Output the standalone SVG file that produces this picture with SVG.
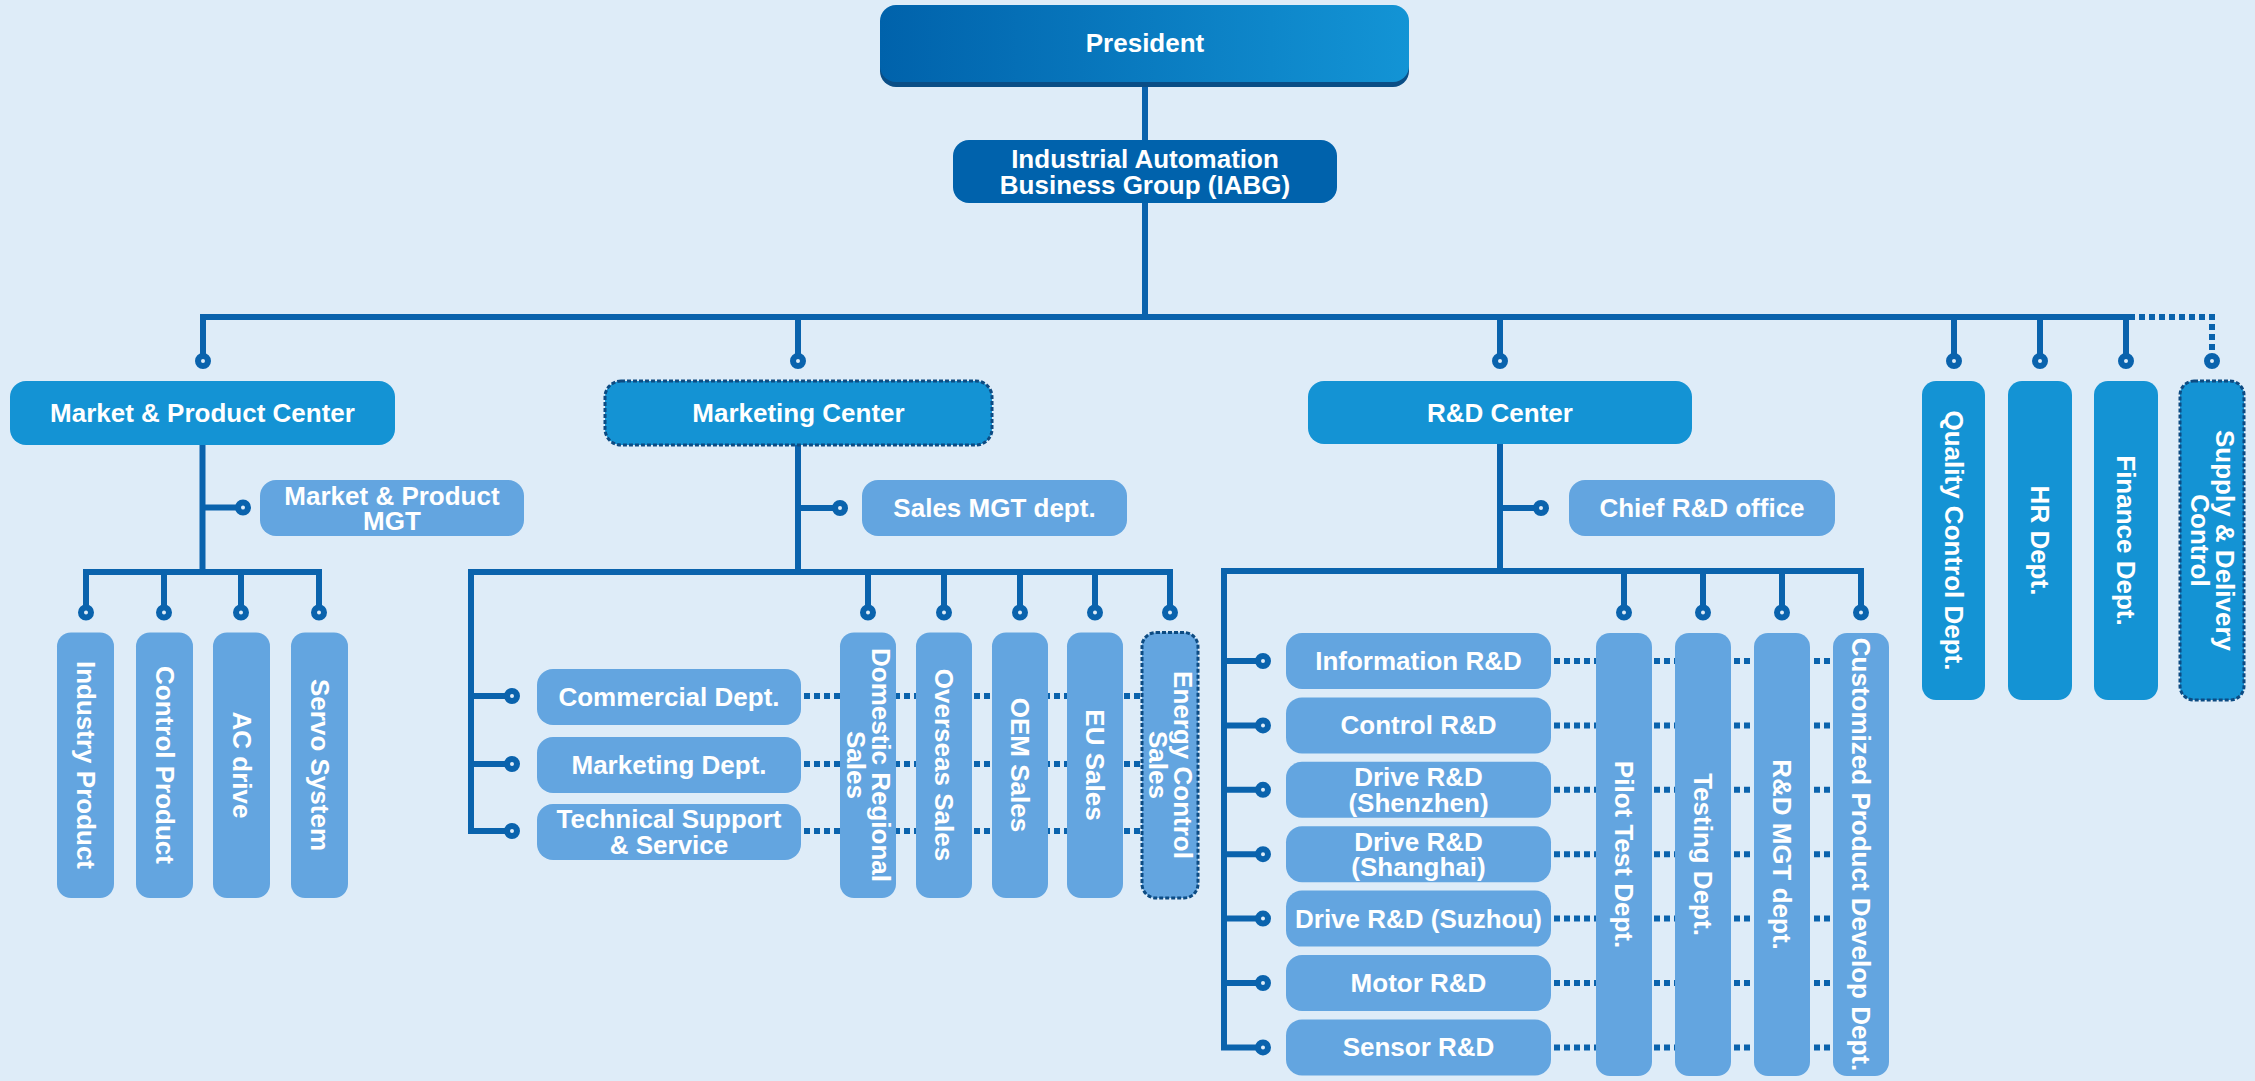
<svg xmlns="http://www.w3.org/2000/svg" width="2255" height="1081" viewBox="0 0 2255 1081">
<defs>
<linearGradient id="pg" x1="0" y1="0" x2="1" y2="0">
<stop offset="0" stop-color="#0062ab"/>
<stop offset="1" stop-color="#1394d5"/>
</linearGradient>
<style>
.t{font-family:"Liberation Sans",Arial,sans-serif;font-weight:bold;font-size:26px;fill:#fff;text-anchor:middle}
.l2{fill:#1493d4}
.l3{fill:#63a5e0}
.dk{fill:#0062ac}
.dash{stroke:#0d4b82;stroke-width:3;stroke-dasharray:4 2}
.ln{stroke:#0a63ad;stroke-width:6;fill:none}
.dot{stroke:#0a63ad;stroke-width:6;stroke-dasharray:6 4;fill:none}
.ring{fill:#deecf8;stroke:#0a63ad;stroke-width:6}
</style>
</defs>
<rect width="2255" height="1081" fill="#deecf8"/>

<g id="connectors">
<path class="ln" d="M1145 87 V317"/>
<path class="ln" d="M203 361 V317 H2126 V361"/>
<path class="ln" d="M798 317 V361 M1500 317 V361 M1954 317 V361 M2040 317 V361"/>
<path class="dot" d="M2129 317 H2212 V356"/>
<path class="ln" d="M202.5 445 V572 M202.5 507.5 H243"/>
<path class="ln" d="M86 612.5 V572 H319 V612.5 M164 572 V612.5 M241 572 V612.5"/>
<path class="ln" d="M798 445 V572 M798 508 H840"/>
<path class="ln" d="M512 831 H471 V572 H1170 V612.5 M471 696 H512 M471 764 H512"/>
<path class="ln" d="M868 572 V612.5 M944 572 V612.5 M1020 572 V612.5 M1095 572 V612.5"/>
<path class="dot" d="M804 696 H1170 M804 764 H1170 M804 831 H1170"/>
<path class="ln" d="M1500 444 V571 M1500 508 H1541"/>
<path class="ln" d="M1263 1047.4 H1224 V571 H1861 V612.5 M1224 661 H1263 M1224 725.4 H1263 M1224 789.8 H1263 M1224 854.2 H1263 M1224 918.6 H1263 M1224 983 H1263"/>
<path class="ln" d="M1624 571 V612.5 M1703 571 V612.5 M1782 571 V612.5"/>
<path class="dot" d="M1554 661 H1861 M1554 725.4 H1861 M1554 789.8 H1861 M1554 854.2 H1861 M1554 918.6 H1861 M1554 983 H1861 M1554 1047.4 H1861"/>
<circle class="ring" cx="203" cy="361" r="5"/>
<circle class="ring" cx="798" cy="361" r="5"/>
<circle class="ring" cx="1500" cy="361" r="5"/>
<circle class="ring" cx="1954" cy="361" r="5"/>
<circle class="ring" cx="2040" cy="361" r="5"/>
<circle class="ring" cx="2126" cy="361" r="5"/>
<circle class="ring" cx="2212" cy="361" r="5"/>
<circle class="ring" cx="243" cy="507.5" r="5"/>
<circle class="ring" cx="86" cy="612.5" r="5"/>
<circle class="ring" cx="164" cy="612.5" r="5"/>
<circle class="ring" cx="241" cy="612.5" r="5"/>
<circle class="ring" cx="319" cy="612.5" r="5"/>
<circle class="ring" cx="840" cy="508" r="5"/>
<circle class="ring" cx="512" cy="696" r="5"/>
<circle class="ring" cx="512" cy="764" r="5"/>
<circle class="ring" cx="512" cy="831" r="5"/>
<circle class="ring" cx="868" cy="612.5" r="5"/>
<circle class="ring" cx="944" cy="612.5" r="5"/>
<circle class="ring" cx="1020" cy="612.5" r="5"/>
<circle class="ring" cx="1095" cy="612.5" r="5"/>
<circle class="ring" cx="1170" cy="612.5" r="5"/>
<circle class="ring" cx="1541" cy="508" r="5"/>
<circle class="ring" cx="1263" cy="661" r="5"/>
<circle class="ring" cx="1263" cy="725.4" r="5"/>
<circle class="ring" cx="1263" cy="789.8" r="5"/>
<circle class="ring" cx="1263" cy="854.2" r="5"/>
<circle class="ring" cx="1263" cy="918.6" r="5"/>
<circle class="ring" cx="1263" cy="983" r="5"/>
<circle class="ring" cx="1263" cy="1047.4" r="5"/>
<circle class="ring" cx="1624" cy="612.5" r="5"/>
<circle class="ring" cx="1703" cy="612.5" r="5"/>
<circle class="ring" cx="1782" cy="612.5" r="5"/>
<circle class="ring" cx="1861" cy="612.5" r="5"/>
</g>

<g id="president">
<rect x="880" y="10" width="529" height="77" rx="16" fill="#0a4e86"/>
<rect x="880" y="5" width="529" height="77" rx="16" fill="url(#pg)"/>
<text class="t" x="1145" y="52">President</text>
</g>
<g id="iabg">
<rect class="dk" x="953" y="140" width="384" height="63" rx="16"/>
<text class="t"><tspan x="1145" y="168">Industrial Automation</tspan><tspan x="1145" y="194">Business Group (IABG)</tspan></text>
</g>

<g id="market-product-center">
<rect class="l2" x="10" y="381" width="385" height="64" rx="16"/>
<text class="t" x="202.5" y="422">Market &amp; Product Center</text>
</g>
<g id="marketing-center">
<rect class="l2 dash" x="605" y="381" width="387" height="64" rx="16"/>
<text class="t" x="798.5" y="422">Marketing Center</text>
</g>
<g id="rd-center">
<rect class="l2" x="1308" y="381" width="384" height="63" rx="16"/>
<text class="t" x="1500" y="422">R&amp;D Center</text>
</g>
<g id="quality-control">
<rect class="l2" x="1922" y="381" width="63" height="319" rx="14"/>
<text class="t" transform="translate(1953.5 540.5) rotate(90)" y="9">Quality Control Dept.</text>
</g>
<g id="hr">
<rect class="l2" x="2008" y="381" width="64" height="319" rx="14"/>
<text class="t" transform="translate(2040 540.5) rotate(90)" y="9">HR Dept.</text>
</g>
<g id="finance">
<rect class="l2" x="2094" y="381" width="64" height="319" rx="14"/>
<text class="t" transform="translate(2126 540.5) rotate(90)" y="9">Finance Dept.</text>
</g>
<g id="supply-delivery">
<rect class="l2 dash" x="2180" y="381" width="64" height="319" rx="14"/>
<text class="t" transform="translate(2212 540.5) rotate(90)"><tspan x="0" y="-3.5">Supply &amp; Delivery</tspan><tspan x="0" y="21.5">Control</tspan></text>
</g>

<g id="market-product-mgt">
<rect class="l3" x="260" y="480" width="264" height="56" rx="16"/>
<text class="t"><tspan x="392" y="504.5">Market &amp; Product</tspan><tspan x="392" y="530">MGT</tspan></text>
</g>
<g id="industry-product">
<rect class="l3" x="57" y="632.5" width="57" height="265.5" rx="14"/>
<text class="t" transform="translate(85.5 765) rotate(90)" y="9">Industry Product</text>
</g>
<g id="control-product">
<rect class="l3" x="136" y="632.5" width="57" height="265.5" rx="14"/>
<text class="t" transform="translate(164.5 765) rotate(90)" y="9">Control Product</text>
</g>
<g id="ac-drive">
<rect class="l3" x="213" y="632.5" width="57" height="265.5" rx="14"/>
<text class="t" transform="translate(241.5 765) rotate(90)" y="9">AC drive</text>
</g>
<g id="servo-system">
<rect class="l3" x="291" y="632.5" width="57" height="265.5" rx="14"/>
<text class="t" transform="translate(319.5 765) rotate(90)" y="9">Servo System</text>
</g>

<g id="sales-mgt">
<rect class="l3" x="862" y="480" width="265" height="56" rx="16"/>
<text class="t" x="994.5" y="517">Sales MGT dept.</text>
</g>
<g id="commercial">
<rect class="l3" x="537" y="669" width="264" height="56" rx="16"/>
<text class="t" x="669" y="706">Commercial Dept.</text>
</g>
<g id="marketing-dept">
<rect class="l3" x="537" y="737" width="264" height="56" rx="16"/>
<text class="t" x="669" y="774">Marketing Dept.</text>
</g>
<g id="technical-support">
<rect class="l3" x="537" y="804" width="264" height="56" rx="16"/>
<text class="t"><tspan x="669" y="828">Technical Support</tspan><tspan x="669" y="854">&amp; Service</tspan></text>
</g>
<g id="domestic-sales">
<rect class="l3" x="840" y="632.5" width="56" height="265.5" rx="14"/>
<text class="t" transform="translate(868 765) rotate(90)"><tspan x="0" y="-3.5">Domestic Regional</tspan><tspan x="0" y="21.5">Sales</tspan></text>
</g>
<g id="overseas-sales">
<rect class="l3" x="916" y="632.5" width="56" height="265.5" rx="14"/>
<text class="t" transform="translate(944 765) rotate(90)" y="9">Overseas Sales</text>
</g>
<g id="oem-sales">
<rect class="l3" x="992" y="632.5" width="56" height="265.5" rx="14"/>
<text class="t" transform="translate(1020 765) rotate(90)" y="9">OEM Sales</text>
</g>
<g id="eu-sales">
<rect class="l3" x="1067" y="632.5" width="56" height="265.5" rx="14"/>
<text class="t" transform="translate(1095 765) rotate(90)" y="9">EU Sales</text>
</g>
<g id="energy-control-sales">
<rect class="l3 dash" x="1142" y="632.5" width="56" height="265.5" rx="14"/>
<text class="t" transform="translate(1170 765) rotate(90)"><tspan x="0" y="-3.5">Energy Control</tspan><tspan x="0" y="21.5">Sales</tspan></text>
</g>

<g id="chief-rd">
<rect class="l3" x="1569" y="480" width="266" height="56" rx="16"/>
<text class="t" x="1702" y="517">Chief R&amp;D office</text>
</g>
<g id="information-rd">
<rect class="l3" x="1286" y="633" width="265" height="56" rx="16"/>
<text class="t" x="1418.5" y="670">Information R&amp;D</text>
</g>
<g id="control-rd">
<rect class="l3" x="1286" y="697.4" width="265" height="56" rx="16"/>
<text class="t" x="1418.5" y="734.4">Control R&amp;D</text>
</g>
<g id="drive-shenzhen">
<rect class="l3" x="1286" y="761.8" width="265" height="56" rx="16"/>
<text class="t"><tspan x="1418.5" y="786.3">Drive R&amp;D</tspan><tspan x="1418.5" y="811.8">(Shenzhen)</tspan></text>
</g>
<g id="drive-shanghai">
<rect class="l3" x="1286" y="826.2" width="265" height="56" rx="16"/>
<text class="t"><tspan x="1418.5" y="850.7">Drive R&amp;D</tspan><tspan x="1418.5" y="876.2">(Shanghai)</tspan></text>
</g>
<g id="drive-suzhou">
<rect class="l3" x="1286" y="890.6" width="265" height="56" rx="16"/>
<text class="t" x="1418.5" y="927.6">Drive R&amp;D (Suzhou)</text>
</g>
<g id="motor-rd">
<rect class="l3" x="1286" y="955" width="265" height="56" rx="16"/>
<text class="t" x="1418.5" y="992">Motor R&amp;D</text>
</g>
<g id="sensor-rd">
<rect class="l3" x="1286" y="1019.4" width="265" height="56" rx="16"/>
<text class="t" x="1418.5" y="1056.4">Sensor R&amp;D</text>
</g>
<g id="pilot-test">
<rect class="l3" x="1596" y="633" width="56" height="443" rx="14"/>
<text class="t" transform="translate(1624 854.5) rotate(90)" y="9">Pilot Test Dept.</text>
</g>
<g id="testing">
<rect class="l3" x="1675" y="633" width="56" height="443" rx="14"/>
<text class="t" transform="translate(1703 854.5) rotate(90)" y="9">Testing Dept.</text>
</g>
<g id="rd-mgt">
<rect class="l3" x="1754" y="633" width="56" height="443" rx="14"/>
<text class="t" transform="translate(1782 854.5) rotate(90)" y="9">R&amp;D MGT dept.</text>
</g>
<g id="customized-product">
<rect class="l3" x="1833" y="633" width="56" height="443" rx="14"/>
<text class="t" transform="translate(1861 854.5) rotate(90)" y="9">Customized Product Develop Dept.</text>
</g>
</svg>
